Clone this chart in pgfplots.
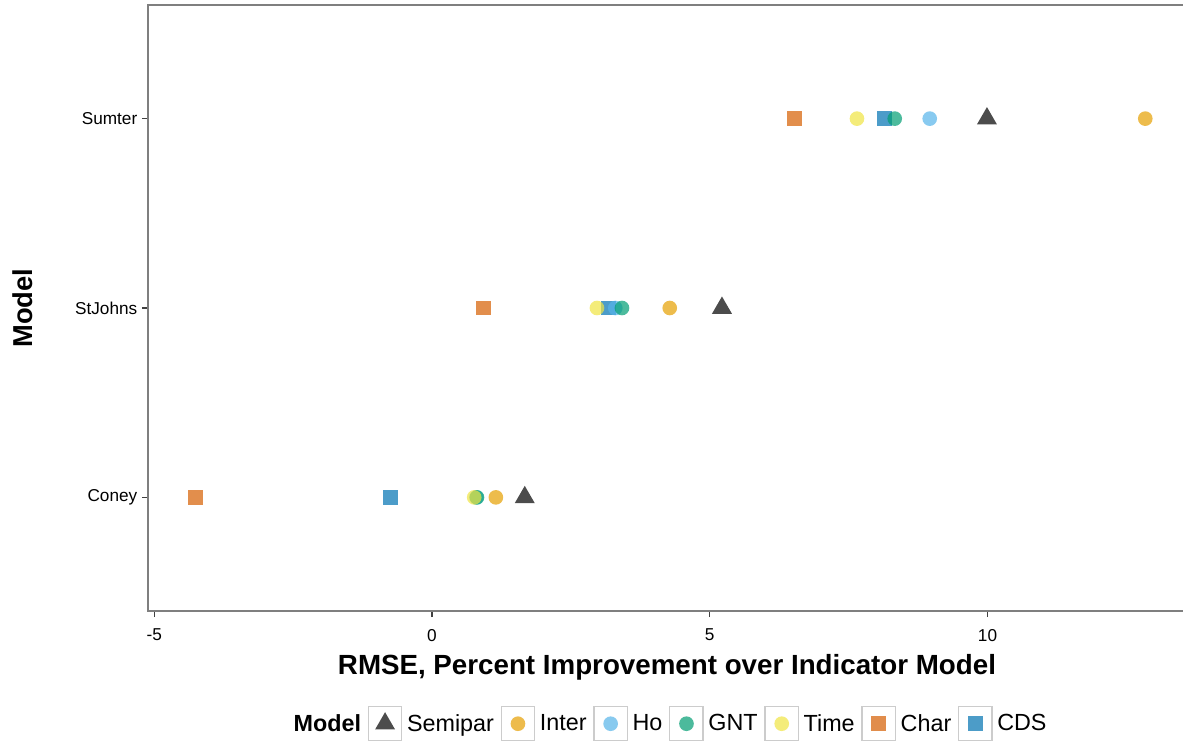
\documentclass[border=0pt]{standalone}
\usepackage{pgfplots}
\pgfplotsset{compat=1.18}
\usepackage{fontspec}
\setmainfont{Liberation Sans}
\definecolor{axgray}{RGB}{127,127,127}
\definecolor{cSemipar}{RGB}{0,0,0}
\definecolor{cInter}{RGB}{230,159,0}
\definecolor{cHo}{RGB}{86,180,233}
\definecolor{cGNT}{RGB}{0,158,115}
\definecolor{cTime}{RGB}{240,228,66}
\definecolor{cChar}{RGB}{213,94,0}
\definecolor{cCDS}{RGB}{0,114,178}
\pgfplotsset{
  sSemipar/.style={mark=triangle*, mark size=8.66pt, mark options={draw opacity=0, fill=cSemipar, fill opacity=0.7}},
  sInter/.style={mark=*, mark size=5.5pt, mark options={draw opacity=0, fill=cInter, fill opacity=0.7}},
  sHo/.style={mark=*, mark size=5.5pt, mark options={draw opacity=0, fill=cHo, fill opacity=0.7}},
  sGNT/.style={mark=*, mark size=5.5pt, mark options={draw opacity=0, fill=cGNT, fill opacity=0.7}},
  sTime/.style={mark=*, mark size=5.5pt, mark options={draw opacity=0, fill=cTime, fill opacity=0.7}},
  sChar/.style={mark=square*, mark size=5.6pt, mark options={draw opacity=0, fill=cChar, fill opacity=0.7}},
  sCDS/.style={mark=square*, mark size=5.6pt, mark options={draw opacity=0, fill=cCDS, fill opacity=0.7}},
}
\begin{document}
\begin{tikzpicture}
\begin{axis}[
  at={(0,0)}, anchor=south west,
  scale only axis,
  width=778.5pt, height=454.5pt,
  xmin=-5.112, xmax=13.573,
  ymin=0.4, ymax=3.6,
  xtick={-5,0,5,10},
  ytick={1,2,3},
  yticklabels={Coney,StJohns,Sumter},
  tick pos=left,
  tick align=outside,
  major tick length=4.5pt,
  tick style={black!75, line width=0.9pt},
  axis line style={axgray, line width=0.9pt},
  ticklabel style={font=\fontsize{12.9}{14}\selectfont, black},
  xticklabel style={yshift=-5.5pt},
  /pgf/number format/assume math mode=true,
  xlabel={\textbf{RMSE, Percent Improvement over Indicator Model}},
  ylabel={\textbf{Model}},
  xlabel style={font=\fontsize{20.8}{24}\selectfont, at={(axis description cs:0.5,-0.0924)}, anchor=center},
  ylabel style={font=\fontsize{20.5}{24}\selectfont, at={(axis description cs:-0.1204,0.5)}, anchor=center},
  legend columns=-1,
  legend style={
    at={(axis description cs:0.503,-0.186)}, anchor=center,
    draw=none, fill=none,
    font=\fontsize{17.5}{20}\selectfont,
    nodes={inner xsep=3.5pt, inner ysep=2pt},
    /tikz/every even column/.append style={column sep=1.5pt},
  },
  legend image code/.code={
    \draw[draw=black!20, line width=1pt, fill=white, fill opacity=1] (0pt,-12.8pt) rectangle (25pt,12.8pt);
    \draw[#1] plot coordinates {(12.5pt,0pt)};
  },
]
% data, drawn in an order that reproduces the overlaps
\addplot[only marks, sCDS, forget plot] coordinates {(-0.74,1) (3.17,2) (8.15,3)};
\addplot[only marks, sChar, forget plot] coordinates {(-4.25,1) (0.92,2) (6.52,3)};
\addplot[only marks, sSemipar, forget plot] coordinates {(1.67,1) (5.22,2) (9.99,3)};
\addplot[only marks, sInter, forget plot] coordinates {(1.15,1) (4.28,2) (12.84,3)};
\addplot[only marks, sHo, forget plot] coordinates {(0.80,1) (3.30,2) (8.96,3)};
\addplot[only marks, sGNT, forget plot] coordinates {(0.81,1) (3.42,2) (8.33,3)};
\addplot[only marks, sTime, forget plot] coordinates {(0.76,1) (2.97,2) (7.65,3)};
% legend
\addlegendimage{empty legend}
\addlegendentry{\textbf{Model}}
\addlegendimage{sSemipar}
\addlegendentry{Semipar}
\addlegendimage{sInter}
\addlegendentry{Inter}
\addlegendimage{sHo}
\addlegendentry{Ho}
\addlegendimage{sGNT}
\addlegendentry{GNT}
\addlegendimage{sTime}
\addlegendentry{Time}
\addlegendimage{sChar}
\addlegendentry{Char}
\addlegendimage{sCDS}
\addlegendentry{CDS}
\end{axis}
\pgfresetboundingbox
\useasboundingbox (-111pt,-96.75pt) rectangle (887.25pt-111pt,458.25pt);
\end{tikzpicture}
\end{document}
